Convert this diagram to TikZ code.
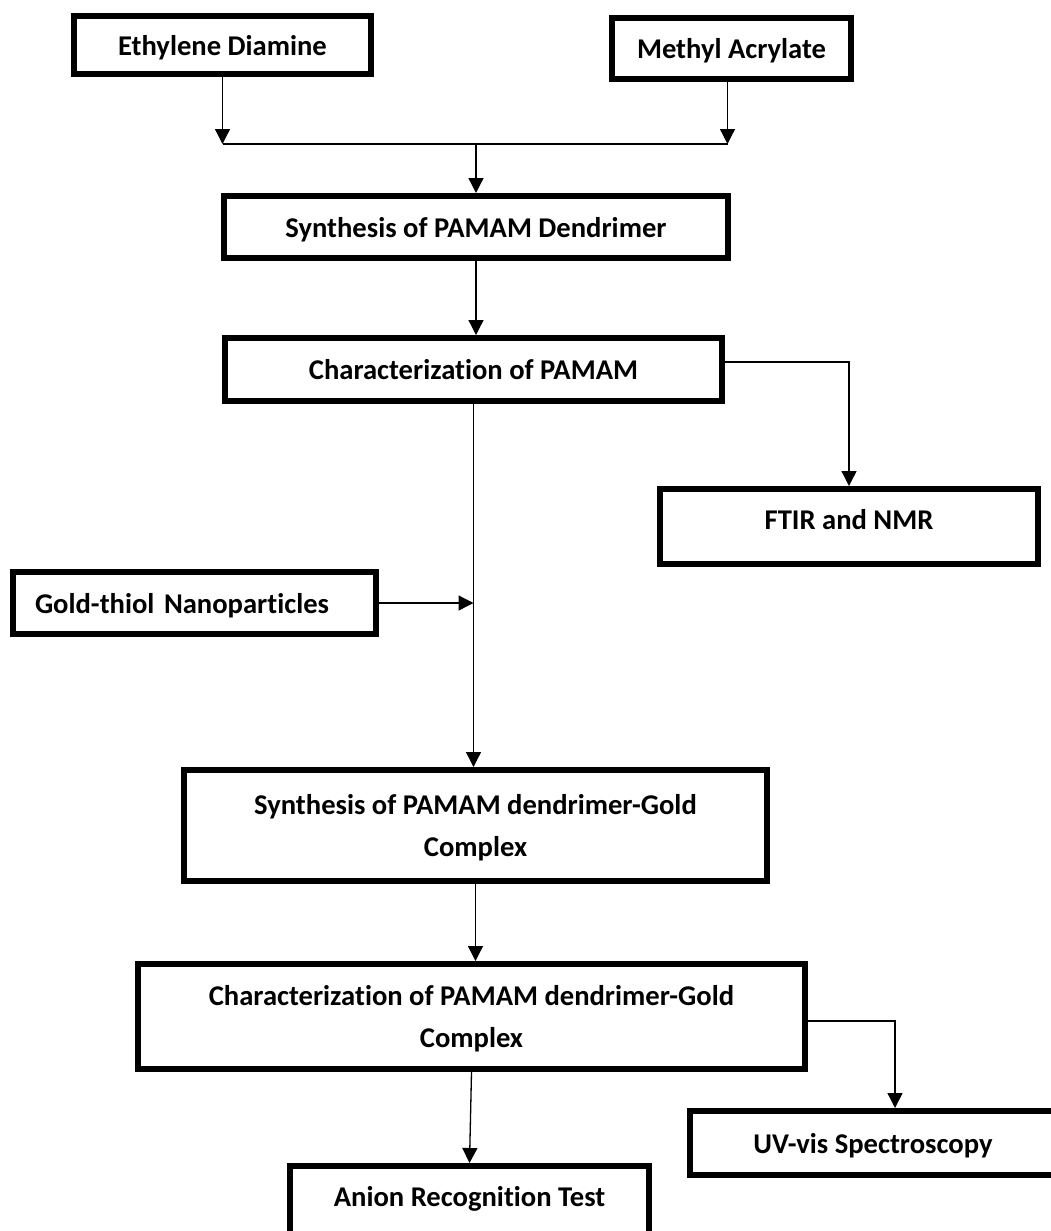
\documentclass[tikz,border=0pt]{standalone}
\usepackage{fontspec}
\setmainfont{Carlito}[Ligatures=NoCommon]
\usetikzlibrary{arrows.meta}

\tikzstyle{stage box}=[draw,rectangle,line width=3pt,inner sep=0pt,align=center,font=\bfseries\fontsize{14.3}{21}\selectfont]
\tikzstyle{flow line}=[draw,line width=0.65pt]
\tikzstyle{flow edge}=[flow line,-{Triangle[length=7.5pt,width=7.5pt]}]

\begin{document}
\begin{tikzpicture}[x=0.5pt,y=-0.5pt]
    \useasboundingbox (0,0) rectangle (1050,1231);
    % First the boxes with centred text
    \foreach \pos/\name/\bw/\bh/\txt in {{(222.5,45)/ED/297/58/Ethylene Diamine},
        {(731.5,48.5)/MA/239/61/Methyl Acrylate},
        {(476,227)/SPD/504/62/Synthesis of PAMAM Dendrimer},
        {(473.5,369.5)/CP/497/63/Characterization of PAMAM},
        {(475.5,825.5)/SG/583/111/Synthesis of PAMAM dendrimer-Gold\\Complex},
        {(471.5,1016.5)/CG/667/105/Characterization of PAMAM dendrimer-Gold\\Complex},
        {(873,1143)/UV/366/64/UV-vis Spectroscopy}}
    \node[stage box,minimum width=\bw*0.5pt,minimum height=\bh*0.5pt,text depth=0pt] (\name) at \pos {\txt};
    % Boxes whose text sits higher or to the left
    \node[stage box,minimum width=189pt,minimum height=37.5pt,text depth=7pt] (FTIR) at (849,526.5) {FTIR and NMR};
    \node[stage box,minimum width=179.5pt,minimum height=37.5pt,text depth=7pt] (ART) at (469.5,1203.5) {Anion Recognition Test};
    \node[stage box,minimum height=31pt,inner xsep=11pt,text width=159.5pt,align=left,text depth=0pt] (GN) at (194.5,603) {Gold-thiol Nanoparticles};
    % Connectors
    \coordinate (jm) at (476,144);
    \path[flow edge] (ED.south) -- (ED.south |- jm);
    \path[flow edge] ([xshift=-2pt]MA.south) -- ([xshift=-2pt]MA.south |- jm);
    \path[flow line] (ED.south |- jm) -- ([xshift=-2pt]MA.south |- jm);
    \path[flow edge] (jm) -- (jm |- SPD.north);
    \path[flow edge] (SPD.south) -- (SPD.south |- CP.north);
    \path[flow edge] ([yshift=3.75pt]CP.east) -| (FTIR.north);
    \path[flow edge] (CP.south) -- (CP.south |- SG.north);
    \coordinate (gj) at (CP.south |- GN.east);
    \path[flow edge] (GN.east) -- (gj);
    \path[flow edge] (SG.south) -- (SG.south |- CG.north);
    \path[flow edge] ([yshift=-2.25pt]CG.east) -| ([xshift=11pt]UV.north);
    \path[flow edge] (CG.south) -- (ART.north);
\end{tikzpicture}
\end{document}
